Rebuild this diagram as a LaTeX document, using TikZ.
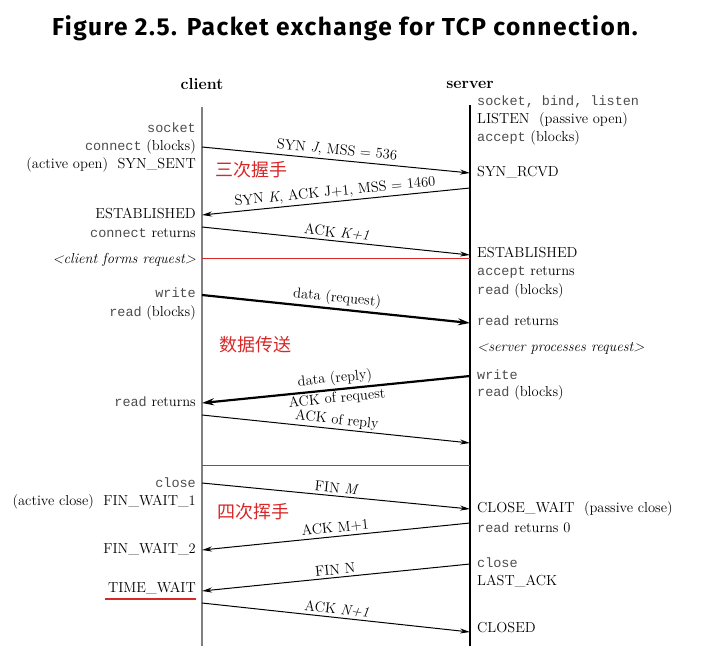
\documentclass[tikz,border=0pt]{standalone}
\usepackage{fontspec}
\setmonofont{Liberation Mono}[Scale=0.93]
\newfontfamily\cjk{Noto Sans CJK SC}
\newfontfamily\headfont{Fira Sans}[LetterSpace=6]
\usetikzlibrary{arrows.meta,positioning}
\definecolor{tcpred}{RGB}{215,40,40}
\newcommand{\lblsize}{\fontsize{14.5}{16}\selectfont}
\newcommand{\sysc}[1]{\textcolor{black!70}{\texttt{#1}}}

\begin{document}
\begin{tikzpicture}[x=1pt, y=-1pt, >={Stealth[length=10pt,width=5pt]},
    lstate/.style={anchor=east, inner sep=0pt, font=\lblsize},
    rstate/.style={anchor=west, inner sep=0pt, font=\lblsize},
    msg/.style={->, line width=1pt},
    datamsg/.style={->, line width=2.2pt, >={Stealth[length=12pt,width=7pt]}},
    msglabel/.style={midway, sloped, inner sep=2.5pt, font=\lblsize},
    phase/.style={anchor=west, text=tcpred, font=\cjk\fontsize{18}{18}\selectfont},
    divider/.style={draw=tcpred, line width=1pt}]
        \useasboundingbox (0,0) rectangle (708,646);

        \node[anchor=base, inner sep=0pt, font=\headfont\bfseries\fontsize{24.5}{24.5}\selectfont] (title) at (345,35) {Figure 2.5. Packet exchange for TCP connection.};
        \node[font=\bfseries\fontsize{16}{16}\selectfont] (client) at (202,84) {client};
        \node[font=\bfseries\fontsize{16}{16}\selectfont] (server) at (470,85) {server};

        \path
        (202,107) coordinate (ctop)
        (202,646) coordinate (cbot)
        (470,105) coordinate (stop)
        (470,646) coordinate (sbot)
        % connection setup
        (202,147) coordinate (c1)  (470,173) coordinate (s1)
        (470,188) coordinate (s2)  (202,215) coordinate (c2)
        (202,227) coordinate (c3)  (470,255) coordinate (s3)
        (202,258) coordinate (d1l) (470,258) coordinate (d1r)
        % data transfer
        (202,295) coordinate (c4)  (470,323) coordinate (s4)
        (470,376) coordinate (s5)  (202,403) coordinate (c5)
        (202,415) coordinate (c6)  (470,443) coordinate (s6)
        (202,465) coordinate (d2l) (470,465) coordinate (d2r)
        % connection termination
        (202,483) coordinate (c7)  (470,509) coordinate (s7)
        (470,523) coordinate (s8)  (202,550) coordinate (c8)
        (470,564) coordinate (s9)  (202,591) coordinate (c9)
        (202,603) coordinate (c10) (470,632) coordinate (s10)
        ;

        \draw[gray, line width=1.5pt] (ctop) -- (cbot);
        \draw[line width=1.3pt] (stop) -- (sbot);

        % client side
        \node[lstate] (csock) at (196,128) {\sysc{socket}};
        \node[lstate] (cconn) at (196,147) {\sysc{connect} (blocks)};
        \node[lstate] (csent) at (196,165) {(active open)\ \ SYN\_SENT};
        \node[lstate] (cest) at (196,213) {ESTABLISHED};
        \node[lstate] (cret) at (196,233) {\sysc{connect} returns};
        \node[lstate] (cform) at (196,260) {\textit{<client forms request>}};
        \node[lstate] (cwrite) at (196,293) {\sysc{write}};
        \node[lstate] (cread) at (196,313) {\sysc{read} (blocks)};
        \node[lstate] (creadret) at (196,402) {\sysc{read} returns};
        \node[lstate] (cclose) at (196,483) {\sysc{close}};
        \node[lstate] (cfw1) at (196,502) {(active close)\ \ FIN\_WAIT\_1};
        \node[lstate] (cfw2) at (196,549) {FIN\_WAIT\_2};
        \node[lstate] (ctw) at (196,588) {TIME\_WAIT};
        \draw[draw=tcpred, line width=1.8pt] ([xshift=-3pt,yshift=-5pt]ctw.south west) -- ([yshift=-5pt]ctw.south east);

        % server side
        \node[rstate] (ssock) at (477,102) {\sysc{socket, bind, listen}};
        \node[rstate] (slisten) at (477,120) {LISTEN\ \ (passive open)};
        \node[rstate] (sacc) at (477,138) {\sysc{accept} (blocks)};
        \node[rstate] (srcvd) at (477,172) {SYN\_RCVD};
        \node[rstate] (sest) at (477,252) {ESTABLISHED};
        \node[rstate] (saccret) at (477,272) {\sysc{accept} returns};
        \node[rstate] (sread) at (477,291) {\sysc{read} (blocks)};
        \node[rstate] (sreadret) at (477,321) {\sysc{read} returns};
        \node[rstate] (sproc) at (477,348) {\textit{<server processes request>}};
        \node[rstate] (swrite) at (477,375) {\sysc{write}};
        \node[rstate] (sread2) at (477,393) {\sysc{read} (blocks)};
        \node[rstate] (scw) at (477,509) {CLOSE\_WAIT\ \ (passive close)};
        \node[rstate] (sret0) at (477,528) {\sysc{read} returns 0};
        \node[rstate] (sclose) at (477,563) {\sysc{close}};
        \node[rstate] (slack) at (477,581) {LAST\_ACK};
        \node[rstate] (sclosed) at (477,628) {CLOSED};

        % phases
        \node[phase] (hs) at (212,170) {三次握手};
        \node[phase] (xfer) at (216,345) {数据传送};
        \node[phase] (wave) at (214,512) {四次挥手};

        \draw[divider] (d1l) -- (d1r);
        \draw[divider] (d2l) -- (d2r);

        \draw[msg] (c1) to node[msglabel, above] {SYN \textit{J}, MSS = 536} (s1);
        \draw[msg] (s2) to node[msglabel, above] {SYN \textit{K}, ACK J+1, MSS = 1460} (c2);
        \draw[msg] (c3) to node[msglabel, above] {ACK \textit{K+1}} (s3);

        \draw[datamsg] (c4) to node[msglabel, above] {data (request)} (s4);
        \draw[datamsg] (s5) to node[msglabel, above] {data (reply)} node[msglabel, below, inner sep=1.5pt] {ACK of request} (c5);
        \draw[msg] (c6) to node[msglabel, above, inner sep=1.5pt] {ACK of reply} (s6);

        \draw[msg] (c7) to node[msglabel, above] {FIN \textit{M}} (s7);
        \draw[msg] (s8) to node[msglabel, above] {ACK M+1} (c8);
        \draw[msg] (s9) to node[msglabel, above] {FIN N} (c9);
        \draw[msg] (c10) to node[msglabel, above] {ACK \textit{N+1}} (s10);
\end{tikzpicture}
\end{document}
